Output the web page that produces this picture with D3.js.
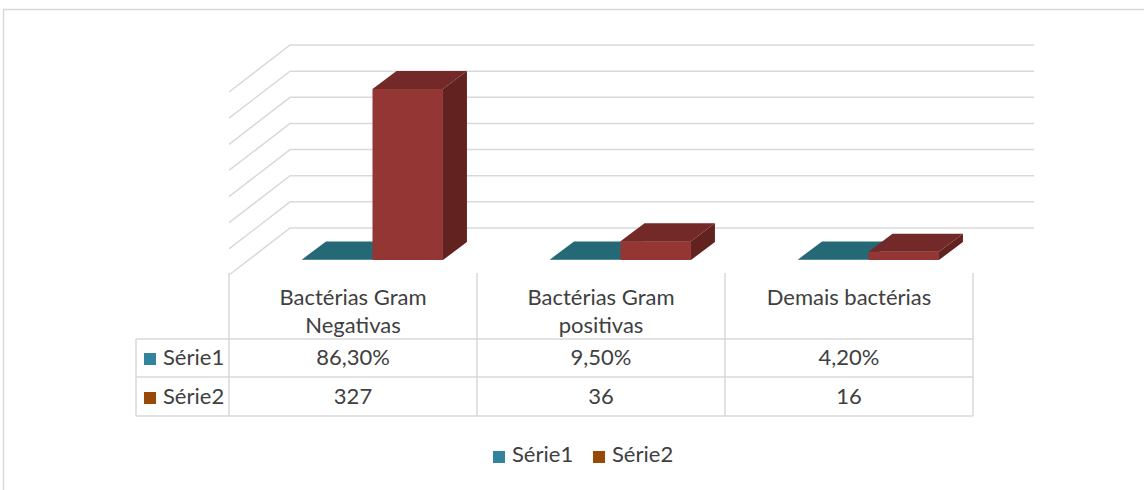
<!DOCTYPE html>
<html><head><meta charset="utf-8">
<script src="https://cdn.jsdelivr.net/npm/d3@7"></script>
<style>
html,body{margin:0;padding:0;background:#fff;}
svg{display:block;}
text{font-family:Lato,"Open Sans",sans-serif;fill:#404040;}
</style></head><body>
<svg id="c" width="1144" height="490"></svg>
<script>
const categories = [["Bactérias Gram","Negativas"],["Bactérias Gram","positivas"],["Demais bactérias"]];
const categoryKeys = ["Bactérias Gram Negativas","Bactérias Gram positivas","Demais bactérias"];
const seriesNames = ["Série1","Série2"];
const serie1 = [0.863, 0.095, 0.042];
const serie1Labels = ["86,30%","9,50%","4,20%"];
const serie2 = [327, 36, 16];
const serie2Labels = ["327","36","16"];
const yTicks = [0,50,100,150,200,250,300,350];

const svg = d3.select("#c");
const frontY = 275, xLeft = 229, xRight = 973;
const depth = k => [k*1.3, -k];
const kBarFront = 15, kBarBack = 33, kWall = 47;

const y = d3.scaleLinear().domain([0,350]).range([0,183]);
const x0 = d3.scaleBand().domain(categoryKeys).range([xLeft, xRight]).padding(0);
const x1 = d3.scaleBand().domain(seriesNames).range([0, x0.bandwidth()]).paddingInner(0).paddingOuter(0.76);

// outer border
svg.append("path").attr("d","M3.5,490 L3.5,9.5 L1144,9.5").attr("fill","none").attr("stroke","#d9d9d9").attr("stroke-width",1.5);

// gridlines on back wall & left wall
const grid = svg.append("g").attr("fill","none").attr("stroke","#d9d9d9").attr("stroke-width",1.5);
const [wdx, wdy] = depth(kWall);
yTicks.forEach(t => {
  const yf = frontY - y(t);
  grid.append("path").attr("d", `M${xLeft},${yf} L${xLeft+wdx},${yf+wdy} L${xRight+wdx},${yf+wdy}`);
});

// bars
const colors = {
  "Série1": {front:"#2f7f92", top:"#256876", side:"#1f5663"},
  "Série2": {front:"#943634", top:"#722927", side:"#612220"}
};
const [fdx, fdy] = depth(kBarFront);
const [bdx, bdy] = [24, -18];
const bars = svg.append("g");
categoryKeys.forEach((c,i) => {
  [[seriesNames[0], serie1[i]],[seriesNames[1], serie2[i]]].forEach(([s,v]) => {
    const xs = x0(c) + x1(s) + fdx;
    const w = x1.bandwidth();
    const yb = frontY + fdy;
    const h = Math.max(y(v), 0.6);
    const col = colors[s];
    bars.append("rect").attr("x",xs).attr("y",yb-h).attr("width",w).attr("height",h).attr("fill",col.front);
    bars.append("path").attr("d",`M${xs},${yb-h} L${xs+w},${yb-h} L${xs+w+bdx},${yb-h+bdy} L${xs+bdx},${yb-h+bdy}Z`).attr("fill",col.top);
    bars.append("path").attr("d",`M${xs+w},${yb} L${xs+w},${yb-h} L${xs+w+bdx},${yb-h+bdy} L${xs+w+bdx},${yb+bdy}Z`).attr("fill",col.side);
  });
});

// data table
const tbl = svg.append("g");
const tStroke = "#d9d9d9";
const tableTop = 273, row1 = 339, row2 = 377, row3 = 416, tableLeft = 136;
const colEdges = categoryKeys.map(c => x0(c)).concat([xRight]);
colEdges.forEach(xe => tbl.append("line").attr("x1",xe).attr("x2",xe).attr("y1",tableTop).attr("y2",row3).attr("stroke",tStroke).attr("stroke-width",1.5));
[row1,row2,row3].forEach(yy => tbl.append("line").attr("x1",tableLeft).attr("x2",xRight).attr("y1",yy).attr("y2",yy).attr("stroke",tStroke).attr("stroke-width",1.5));
tbl.append("line").attr("x1",tableLeft).attr("x2",tableLeft).attr("y1",row1).attr("y2",row3).attr("stroke",tStroke).attr("stroke-width",1.5);

const fs = 22;
categoryKeys.forEach((c,i) => {
  const cx = x0(c) + x0.bandwidth()/2;
  categories[i].forEach((line,j) => {
    tbl.append("text").attr("x",cx).attr("y",305 + j*28).attr("text-anchor","middle").attr("font-size",fs).text(line);
  });
  tbl.append("text").attr("x",cx).attr("y",365).attr("text-anchor","middle").attr("font-size",fs).text(serie1Labels[i]);
  tbl.append("text").attr("x",cx).attr("y",404).attr("text-anchor","middle").attr("font-size",fs).text(serie2Labels[i]);
});
const legendColors = ["#31849b","#984807"];
[[365, 0],[404, 1]].forEach(([by,k]) => {
  tbl.append("rect").attr("x",144).attr("y",by-12).attr("width",12).attr("height",12).attr("fill",legendColors[k]);
  tbl.append("text").attr("x",163).attr("y",by).attr("font-size",fs).text(seriesNames[k]);
});

// legend
const lg = svg.append("g");
[[493,0],[593,1]].forEach(([lx,k]) => {
  lg.append("rect").attr("x",lx).attr("y",451).attr("width",12).attr("height",12).attr("fill",legendColors[k]);
  lg.append("text").attr("x",lx+19).attr("y",462).attr("font-size",fs).text(seriesNames[k]);
});
</script></body></html>
